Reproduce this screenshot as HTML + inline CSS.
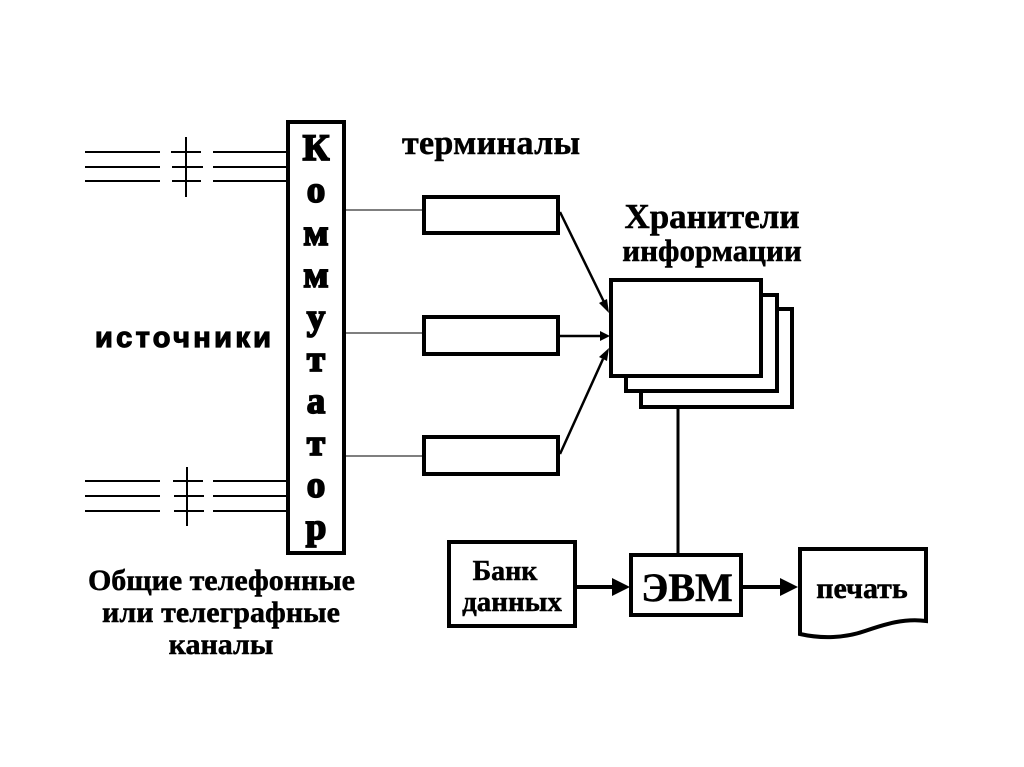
<!DOCTYPE html>
<html>
<head>
<meta charset="utf-8">
<style>
html,body{margin:0;padding:0;background:#fff;}
svg{display:block;}
.serif{font-family:"Liberation Serif","Noto Serif CJK SC",serif;font-weight:bold;}
.sans{font-family:"Liberation Sans","Noto Sans CJK SC",sans-serif;font-weight:bold;}
</style>
</head>
<body>
<svg width="1024" height="767" viewBox="0 0 1024 767" xmlns="http://www.w3.org/2000/svg">
<rect x="0" y="0" width="1024" height="767" fill="#fff"/>

<!-- channel lines top -->
<g stroke="#000" stroke-width="2" fill="none">
  <line x1="85" y1="152" x2="160" y2="152"/>
  <line x1="85" y1="167" x2="160" y2="167"/>
  <line x1="85" y1="181" x2="160" y2="181"/>
  <line x1="171" y1="152" x2="201" y2="152"/>
  <line x1="172" y1="167" x2="203" y2="167"/>
  <line x1="172" y1="181" x2="201" y2="181"/>
  <line x1="213" y1="152" x2="287" y2="152"/>
  <line x1="213" y1="167" x2="287" y2="167"/>
  <line x1="213" y1="181" x2="287" y2="181"/>
  <line x1="186" y1="137" x2="186" y2="197"/>
  <!-- bottom -->
  <line x1="85" y1="481" x2="160" y2="481"/>
  <line x1="85" y1="496" x2="160" y2="496"/>
  <line x1="85" y1="511" x2="160" y2="511"/>
  <line x1="173" y1="481" x2="203" y2="481"/>
  <line x1="174" y1="496" x2="204" y2="496"/>
  <line x1="174" y1="511" x2="204" y2="511"/>
  <line x1="213" y1="481" x2="287" y2="481"/>
  <line x1="213" y1="496" x2="287" y2="496"/>
  <line x1="213" y1="511" x2="287" y2="511"/>
  <line x1="187" y1="467" x2="187" y2="526"/>
</g>

<!-- commutator -->
<rect x="288" y="122" width="56" height="431" fill="#fff" stroke="#000" stroke-width="4"/>
<g class="serif" font-size="37" text-anchor="middle" fill="#000" stroke="#000" stroke-width="1.8">
  <text x="316" y="160">К</text>
  <text x="316" y="202">о</text>
  <text x="316" y="245">м</text>
  <text x="316" y="287">м</text>
  <text x="316" y="329">у</text>
  <text x="316" y="371">т</text>
  <text x="316" y="413">а</text>
  <text x="316" y="455">т</text>
  <text x="316" y="497">о</text>
  <text x="316" y="539">р</text>
</g>

<!-- thin connectors to terminals -->
<g stroke="#333" stroke-width="1.3">
  <line x1="346" y1="210" x2="422" y2="210"/>
  <line x1="346" y1="333" x2="422" y2="333"/>
  <line x1="346" y1="456" x2="422" y2="456"/>
</g>

<!-- terminals -->
<g fill="#fff" stroke="#000" stroke-width="4">
  <rect x="424" y="197" width="134" height="36"/>
  <rect x="424" y="317" width="134" height="37"/>
  <rect x="424" y="437" width="134" height="37"/>
</g>

<!-- arrows terminals -> storage -->
<g stroke="#000" stroke-width="2.5">
  <line x1="560" y1="212" x2="604" y2="302"/>
  <line x1="560" y1="336" x2="602" y2="336"/>
  <line x1="560" y1="454" x2="603" y2="359"/>
</g>
<g fill="#000">
  <polygon points="609,313 599,303 607,299"/>
  <polygon points="610,336 600,331 600,341"/>
  <polygon points="609,348 599,357 607,361"/>
</g>

<!-- storage stack -->
<g fill="#fff" stroke="#000" stroke-width="4">
  <rect x="641" y="309" width="151" height="98"/>
  <rect x="626" y="295" width="151" height="96"/>
  <rect x="611" y="280" width="150" height="96"/>
</g>
<line x1="678" y1="409" x2="678" y2="554" stroke="#000" stroke-width="3"/>

<!-- bank -->
<rect x="449" y="542" width="126" height="84" fill="#fff" stroke="#000" stroke-width="4"/>
<!-- EVM -->
<rect x="631" y="555" width="110" height="60" fill="#fff" stroke="#000" stroke-width="4"/>
<!-- arrows bottom -->
<line x1="577" y1="587" x2="614" y2="587" stroke="#000" stroke-width="4"/>
<polygon points="612,578 630,587 612,596" fill="#000"/>
<line x1="743" y1="587" x2="782" y2="587" stroke="#000" stroke-width="4"/>
<polygon points="780,578 798,587 780,596" fill="#000"/>

<!-- print -->
<path d="M800,549 L926,549 L926,621 C905,618 885,624 865,631 C845,638 822,639 800,634 Z" fill="#fff" stroke="#000" stroke-width="4" stroke-linejoin="miter"/>

<!-- labels -->
<g class="serif" fill="#000" stroke="#000" stroke-width="0.5">
<text x="402" y="154" font-size="34" textLength="178">терминалы</text>
<text x="712" y="228" font-size="35" text-anchor="middle">Хранители</text>
<text x="712" y="261" font-size="31" text-anchor="middle">информации</text>
<text x="88" y="590" font-size="30" textLength="267">Общие телефонные</text>
<text x="102" y="622" font-size="30" textLength="238">или телеграфные</text>
<text x="221" y="654" font-size="30" text-anchor="middle">каналы</text>
<text x="505" y="580" font-size="28" text-anchor="middle">Банк</text>
<text x="512" y="611" font-size="29" text-anchor="middle">данных</text>
<text x="687" y="601" font-size="40" text-anchor="middle">ЭВМ</text>
<text x="862" y="598" font-size="30" text-anchor="middle">печать</text>
</g>
<text class="sans" x="95" y="347" font-size="29" textLength="176" stroke="#000" stroke-width="1.2">источники</text>
</svg>
</body>
</html>
